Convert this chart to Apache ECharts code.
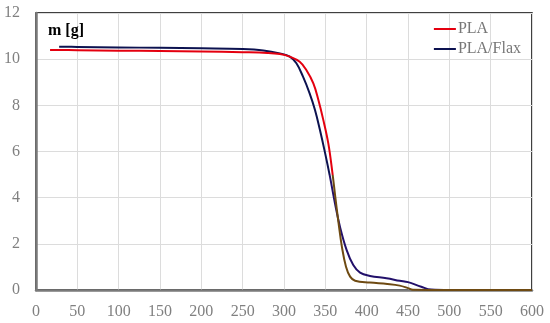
<!DOCTYPE html>
<html><head><meta charset="utf-8">
<script src="https://cdn.jsdelivr.net/npm/echarts@6/dist/echarts.min.js"></script>
<style>html,body{margin:0;padding:0;background:#fff}#c{width:550px;height:323px}</style>
</head><body><div id="c"></div>
<script>
const tempPLA = [17, 50, 100, 150, 200, 250, 280, 295, 307, 319, 327, 335.5, 341.6, 347.6, 353.6, 358.5, 362, 366, 370, 375, 380, 386, 404, 425, 440, 450, 456, 500, 550, 600];
const massPLA = [10.40, 10.39, 10.37, 10.35, 10.33, 10.30, 10.27, 10.22, 10.11, 9.89, 9.53, 8.95, 8.23, 7.36, 6.35, 5.1, 4.05, 2.9, 1.88, 1.01, 0.58, 0.40, 0.32, 0.26, 0.19, 0.08, 0.01, 0, 0, 0];
const tempFlax = [28, 50, 100, 150, 200, 250, 275, 295, 307, 315, 323, 331, 337.5, 343.5, 349.6, 355.6, 361.7, 367.7, 375.8, 383.8, 392, 404, 424, 440, 450, 466, 478, 500, 550, 600];
const massFlax = [10.54, 10.53, 10.51, 10.49, 10.47, 10.44, 10.38, 10.25, 10.11, 9.82, 9.24, 8.52, 7.80, 6.93, 5.95, 4.91, 3.75, 2.74, 1.73, 1.08, 0.75, 0.61, 0.51, 0.40, 0.34, 0.14, 0.02, 0, 0, 0];
const seriesNames = ['PLA', 'PLA/Flax'];
const yLabel = 'm [g]';

const font = 'Liberation Serif';
const H = 323, gridTop = 13, gridBottom = 33, yMax = 12;
const splitOff = (gridTop + (H - gridTop - gridBottom) * (yMax - 5) / yMax) / H;
function twoTone(upper, lower) {
  return new echarts.graphic.LinearGradient(0, 0, 0, H, [
    {offset: 0, color: upper}, {offset: splitOff, color: upper},
    {offset: splitOff, color: lower}, {offset: 1, color: lower}
  ], true);
}
const chart = echarts.init(document.getElementById('c'));
chart.setOption({
  animation: false,
  grid: {left: 36, right: 18, top: gridTop, bottom: gridBottom, show: true, borderColor: '#000', borderWidth: 1.5},
  title: {text: yLabel, left: 43, top: 18, textStyle: {fontFamily: font, fontSize: 16, fontWeight: 'bold', color: '#000'}},
  legend: {
    orient: 'vertical', right: 24, top: 14, itemGap: 0, itemWidth: 22, itemHeight: 2, icon: 'rect',
    textStyle: {fontFamily: font, fontSize: 16, color: '#777', lineHeight: 20, padding: [0,0,0,-3]},
    data: [{name: seriesNames[0], itemStyle: {color: '#e4000f'}}, {name: seriesNames[1], itemStyle: {color: '#0c1250'}}]
  },
  xAxis: {
    type: 'value', min: 0, max: 600, interval: 50,
    axisLine: {show: true, onZero: false, lineStyle: {color: '#7a7a7a', width: 2.5}},
    axisTick: {show: false},
    splitLine: {show: true, lineStyle: {color: '#dcdcdc', width: 1}},
    axisLabel: {fontFamily: font, fontSize: 16, color: '#808080', margin: 14}
  },
  yAxis: {
    type: 'value', min: 0, max: yMax, interval: 2,
    axisLine: {show: true, onZero: false, lineStyle: {color: '#7a7a7a', width: 2.5}},
    axisTick: {show: false},
    splitLine: {show: true, lineStyle: {color: '#dcdcdc', width: 1}},
    axisLabel: {fontFamily: font, fontSize: 16, color: '#808080', margin: 16}
  },
  series: [
    {name: seriesNames[0], type: 'line', data: tempPLA.map((t, i) => [t, massPLA[i]]), showSymbol: false, smooth: 0.4, lineStyle: {width: 2, color: twoTone('#e4000f', '#6e4a12')}, itemStyle: {color: '#e4000f'}, z: 3},
    {name: seriesNames[1], type: 'line', data: tempFlax.map((t, i) => [t, massFlax[i]]), showSymbol: false, smooth: 0.4, lineStyle: {width: 2, color: twoTone('#0c1250', '#22106a')}, itemStyle: {color: '#0c1250'}, z: 2}
  ]
});
</script></body></html>
